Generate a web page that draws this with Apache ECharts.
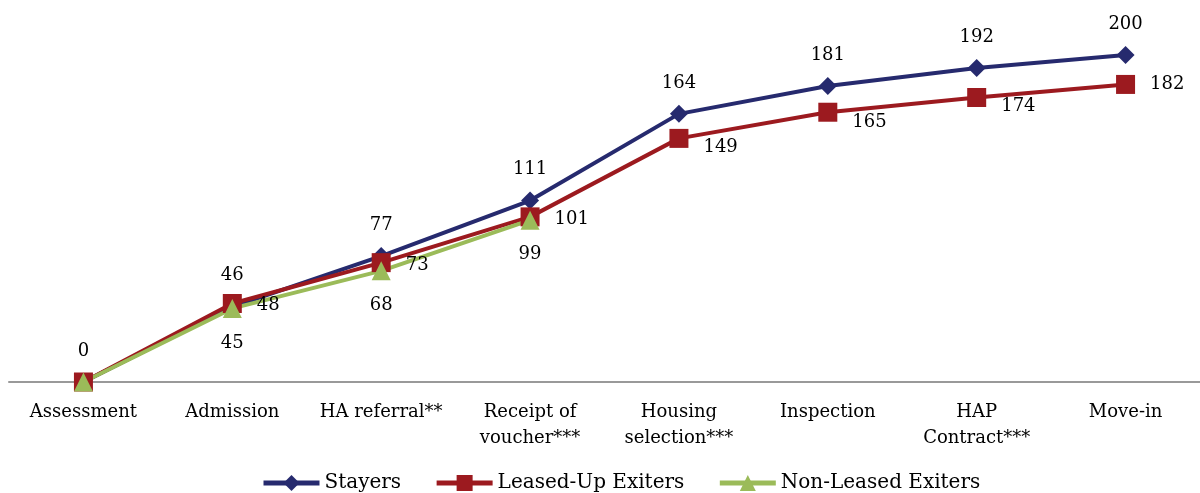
<!DOCTYPE html>
<html><head><meta charset="utf-8">
<script src="https://cdn.jsdelivr.net/npm/echarts@6/dist/echarts.min.js"></script>
<style>html,body{margin:0;padding:0;background:#fff}#c{width:1200px;height:493px}</style>
</head><body><div id="c"></div>
<script>
const categories = ['Assessment','Admission','HA referral**','Receipt of\nvoucher***','Housing\nselection***','Inspection','HAP\nContract***','Move-in'];
const stayers = [0,46,77,111,164,181,192,200];
const leasedUp = [0,48,73,101,149,165,174,182];
const nonLeased = [0,45,68,99];
// vertical nudges of the Leased-Up labels (style only)
const leasedLabelDy = [0,2,3,2,9,10,9,0];
const FONT = 'DejaVu Serif';
const chart = echarts.init(document.getElementById('c'));
const lbl = (pos, dist, hideZero) => ({
  show: true, position: pos, distance: dist, color: '#000', fontFamily: FONT, fontSize: 18,
  formatter: p => (hideZero && p.value === 0) ? '' : String(p.value)
});
chart.setOption({
  animation: false,
  textStyle: {fontFamily: FONT},
  grid: {left: 9, width: 1197, top: 55, bottom: 111},
  legend: {
    top: 468, left: 256, itemWidth: 56, itemHeight: 20, itemGap: 33,
    lineStyle: {width: 5},
    textStyle: {fontFamily: FONT, fontSize: 20, color: '#000'},
    data: ['Stayers','Leased-Up Exiters','Non-Leased Exiters']
  },
  xAxis: {
    type: 'category', data: categories, boundaryGap: true,
    axisLine: {lineStyle: {color: '#999', width: 2}}, axisTick: {show: false},
    axisLabel: {color: '#000', fontFamily: FONT, fontSize: 18, lineHeight: 26, margin: 17, interval: 0}
  },
  yAxis: {type: 'value', min: 0, max: 200, show: false, splitLine: {show: false}},
  series: [
    {name: 'Stayers', type: 'line', data: stayers, symbol: 'diamond', symbolSize: 18,
     lineStyle: {width: 4, color: '#262A6E'}, itemStyle: {color: '#262A6E'},
     label: lbl('top', 13, false)},
    {name: 'Leased-Up Exiters', type: 'line',
     data: leasedUp.map((v, i) => ({value: v, label: {offset: [0, leasedLabelDy[i]]}})),
     symbol: 'rect', symbolSize: 19,
     lineStyle: {width: 4, color: '#9C1A1F'}, itemStyle: {color: '#9C1A1F'},
     label: lbl('right', 15, true)},
    {name: 'Non-Leased Exiters', type: 'line', data: nonLeased, symbol: 'triangle', symbolSize: 19,
     lineStyle: {width: 4, color: '#9BBB59'}, itemStyle: {color: '#9BBB59'},
     label: lbl('bottom', 16, true)}
  ]
});
</script></body></html>
